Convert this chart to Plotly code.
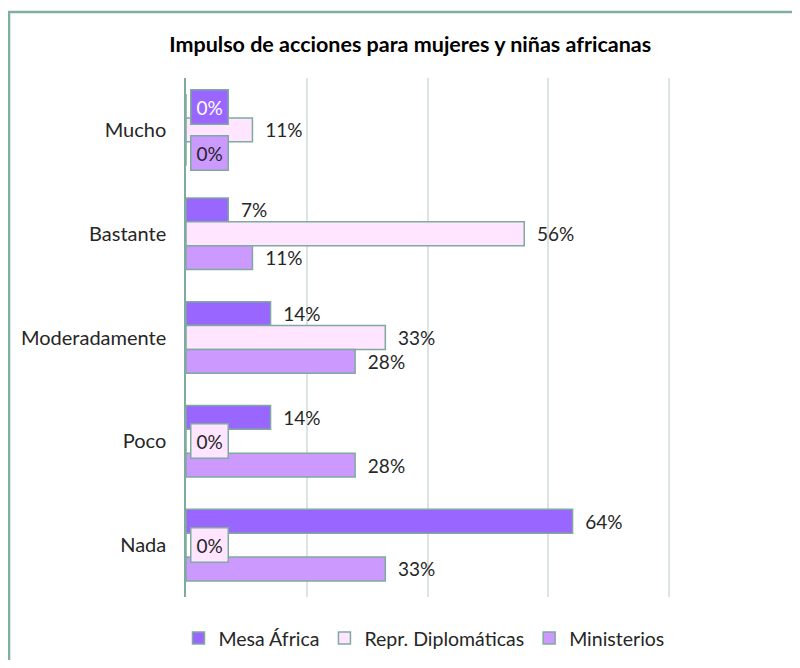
import plotly.graph_objects as go

categories = ["Mucho", "Bastante", "Moderadamente", "Poco", "Nada"]
series_names = ["Mesa África", "Repr. Diplomáticas", "Ministerios"]
mesa_africa = [0.00, 0.07, 0.14, 0.14, 0.64]
repr_diplomaticas = [0.11, 0.56, 0.33, 0.00, 0.00]
ministerios = [0.00, 0.11, 0.28, 0.28, 0.33]

fills = ["#9966FF", "#FFE5FF", "#CC99FF"]
zero_font = ["white", "#262626", "#262626"]
edge = "#7FAA9E"
font_family = "Lato, 'Noto Sans', sans-serif"

fig = go.Figure()
all_values = [mesa_africa, repr_diplomaticas, ministerios]
for name, vals, fill in zip(series_names, all_values, fills):
    fig.add_trace(
        go.Bar(
            name=name,
            y=categories,
            x=vals,
            orientation="h",
            marker=dict(color=fill, line=dict(color=edge, width=1.5)),
            text=["  {:.0%}".format(v) if v > 0 else "" for v in vals],
            textposition="outside",
            textfont=dict(size=19, color="#262626", family=font_family),
            cliponaxis=False,
        )
    )

# zero values: Excel shows a boxed label at the bar base
bar_h = 23
for i, vals in enumerate(all_values):
    for cat, v in zip(categories, vals):
        if v == 0:
            fig.add_annotation(
                x=0, y=cat, xref="x", yref="y",
                text="0%", showarrow=False,
                xanchor="left", xshift=4, yshift=(1 - i) * bar_h,
                font=dict(size=19, color=zero_font[i], family=font_family),
                bgcolor=fills[i], bordercolor=edge, borderwidth=1.5, borderpad=5,
            )

# the page body adds an 8px margin, so the figure is sized to fit inside it
fig.update_layout(
    width=784,
    height=652,
    barmode="group",
    bargap=0.31,
    bargroupgap=0,
    plot_bgcolor="white",
    paper_bgcolor="white",
    margin=dict(l=178, r=2, t=70, b=56),
    title=dict(
        text="<b>Impulso de acciones para mujeres y niñas africanas</b>",
        x=0.513, xanchor="center", y=0.944, yanchor="middle",
        font=dict(size=21.5, color="#000000", family=font_family),
    ),
    legend=dict(
        orientation="h", x=0.394, xanchor="center", y=-0.042, yanchor="top",
        font=dict(size=19.5, color="#262626", family=font_family),
        traceorder="normal", itemwidth=30,
    ),
    font=dict(family=font_family),
    shapes=[
        dict(type="rect", xref="paper", yref="paper",
             x0=-0.293, x1=1.03, y0=-0.2, y1=1.1274,
             line=dict(color="#7FAFA0", width=2.5), layer="below"),
    ],
)
fig.update_xaxes(
    range=[0, 1], dtick=0.2, showticklabels=False,
    showgrid=True, gridcolor="#DCE5E2", gridwidth=1.5,
    zeroline=False, showline=False, automargin=False,
)
fig.update_yaxes(
    autorange="reversed", automargin=False,
    showline=True, linecolor=edge, linewidth=1.5,
    ticks="", ticklabelstandoff=14,
    tickfont=dict(size=20, color="#262626", family=font_family),
)

fig.write_html("out.html")
